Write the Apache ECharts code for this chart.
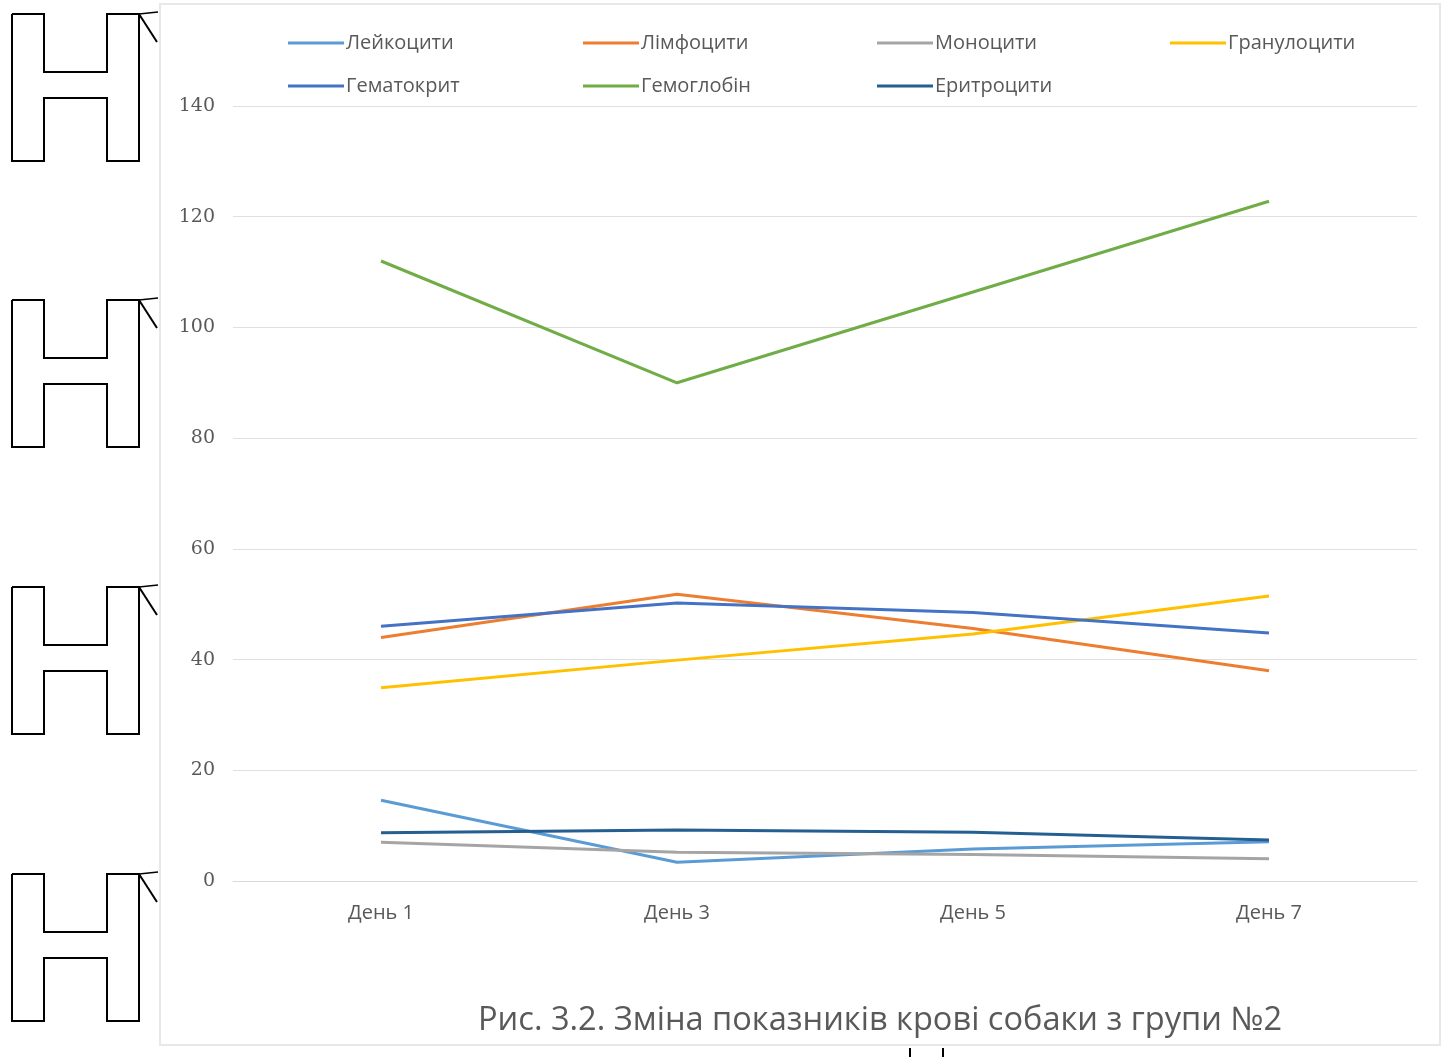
<!DOCTYPE html>
<html>
<head>
<meta charset="utf-8">
<script src="https://cdn.jsdelivr.net/npm/echarts@6/dist/echarts.min.js"></script>
<style>
html,body{margin:0;padding:0;background:#fff;}
#chart{width:1447px;height:1057px;}
</style>
</head>
<body>
<div id="chart"></div>
<script>
const categories = ['День 1', 'День 3', 'День 5', 'День 7'];
const seriesNames = ['Лейкоцити', 'Лімфоцити', 'Моноцити', 'Гранулоцити', 'Гематокрит', 'Гемоглобін', 'Еритроцити'];
const leukocytes = [14.6, 3.4, 5.8, 7.1];
const lymphocytes = [44.0, 51.8, 45.6, 38.0];
const monocytes = [7.0, 5.2, 4.8, 4.0];
const granulocytes = [34.9, 39.9, 44.6, 51.5];
const hematocrit = [46.0, 50.2, 48.5, 44.8];
const hemoglobin = [112.0, 90.0, 106.4, 122.8];
const erythrocytes = [8.7, 9.2, 8.8, 7.4];
const yTicks = [0, 20, 40, 60, 80, 100, 120, 140];
const caption = 'Рис. 3.2. Зміна показників крові собаки з групи №2';

const seriesData = [leukocytes, lymphocytes, monocytes, granulocytes, hematocrit, hemoglobin, erythrocytes];
const colors = ['#5B9BD5', '#ED7D31', '#A5A5A5', '#FFC000', '#4472C4', '#70AD47', '#255E91'];

const chart = echarts.init(document.getElementById('chart'), null, {renderer: 'canvas'});

const legendLeft = [288, 583, 877, 1170];
const legendTop = [33, 76];
const legends = seriesNames.map((n, i) => ({
  data: [n],
  left: legendLeft[i % 4],
  top: legendTop[Math.floor(i / 4)],
  icon: 'rect',
  itemWidth: 56,
  itemHeight: 3,
  itemGap: 0,
  padding: 0,
  textStyle: {color: '#595959', fontSize: 20, fontFamily: 'Open Sans', padding: [0, 0, 0, -3]}
}));

function hShape(y0) {
  const x0 = 12, x1 = 44, x2 = 107, x3 = 139;
  const yT = y0, yB = y0 + 147, yM1 = y0 + 58, yM2 = y0 + 84;
  return [
    {type: 'polyline', silent: true, shape: {points: [[x0, yT], [x0, yB], [x1, yB], [x1, yM2], [x2, yM2], [x2, yB], [x3, yB], [x3, yT], [x2, yT], [x2, yM1], [x1, yM1], [x1, yT], [x0, yT]]},
      style: {stroke: '#000', lineWidth: 2, fill: null}},
    {type: 'polyline', silent: true, shape: {points: [[x3, yT], [157, yT + 28]]}, style: {stroke: '#000', lineWidth: 2, fill: null}},
    {type: 'polyline', silent: true, shape: {points: [[x3, yT], [158, yT - 2]]}, style: {stroke: '#000', lineWidth: 1.5, fill: null}}
  ];
}

const graphics = [
  {type: 'rect', silent: true, z: -1, shape: {x: 160, y: 4, width: 1280, height: 1041}, style: {fill: '#fff', stroke: '#E8E8E8', lineWidth: 2}},
  ...hShape(14), ...hShape(300), ...hShape(587), ...hShape(874),
  {type: 'polyline', silent: true, shape: {points: [[910, 1048], [910, 1057]]}, style: {stroke: '#000', lineWidth: 2}},
  {type: 'polyline', silent: true, shape: {points: [[943, 1048], [943, 1057]]}, style: {stroke: '#000', lineWidth: 2}},
  {type: 'text', silent: true, left: 478, top: 1004, style: {text: caption, fill: '#595959', font: '32.6px "Open Sans"'}}
];

const option = {
  backgroundColor: '#fff',
  animation: false,
  color: colors,
  legend: legends,
  grid: {left: 233, right: 30, top: 106, bottom: 176, containLabel: false},
  xAxis: {
    type: 'category',
    data: categories,
    boundaryGap: true,
    axisLine: {show: true, lineStyle: {color: '#D9D9D9', width: 1}},
    axisTick: {show: false},
    axisLabel: {color: '#595959', fontSize: 20, fontFamily: 'Open Sans', margin: 22}
  },
  yAxis: {
    type: 'value',
    min: 0, max: 140, interval: 20,
    axisLine: {show: false},
    axisTick: {show: false},
    splitLine: {lineStyle: {color: '#E0E0E0', width: 1}},
    axisLabel: {color: '#595959', fontSize: 19, fontFamily: 'DejaVu Serif', margin: 18,
      formatter: v => yTicks.includes(v) ? String(v) : ''}
  },
  series: seriesNames.map((n, i) => ({
    name: n,
    type: 'line',
    data: seriesData[i],
    symbol: 'none',
    lineStyle: {width: 3, color: colors[i]},
    itemStyle: {color: colors[i]}
  })),
  graphic: graphics
};
chart.setOption(option);
</script>
</body>
</html>
